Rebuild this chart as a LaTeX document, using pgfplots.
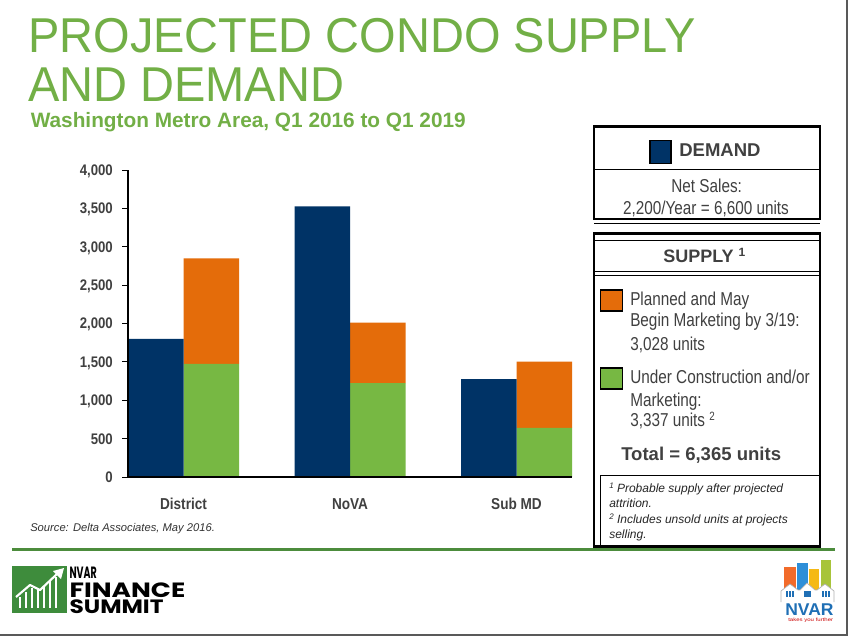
\documentclass[border=0pt]{standalone}
\usepackage{pgfplots}
\pgfplotsset{compat=1.18}
\usepackage{fontspec}
\setmainfont{Liberation Sans}
\newfontfamily\narrowfont[FakeStretch=0.82]{Liberation Sans}
\newfontfamily\titlefont[FakeStretch=0.96]{Liberation Sans}
\newfontfamily\catfont[FakeStretch=0.86]{Liberation Sans}
\newfontfamily\logofont{Poppins}
\definecolor{navy}{HTML}{003366}
\definecolor{borange}{HTML}{E46C0A}
\definecolor{bgreen}{HTML}{77B843}
\definecolor{titlegreen}{HTML}{72AF46}
\definecolor{txt}{HTML}{404040}
\definecolor{linegreen}{HTML}{4C8C3C}
\definecolor{logogreen}{HTML}{3E8C3C}
\definecolor{nvblue}{HTML}{1F6FB5}
\definecolor{nvorange}{HTML}{F26B2A}
\definecolor{nvsky}{HTML}{2E8FD8}
\definecolor{nvyellow}{HTML}{F5B915}
\definecolor{nvlime}{HTML}{A8C43A}
\newcommand\fs[1]{\fontsize{#1pt}{#1pt}\selectfont}
\begin{document}
\begin{tikzpicture}
\path[use as bounding box] (0,0) rectangle (636pt,-477pt);
\fill[white] (0,0) rectangle (636pt,-477pt);
% supply bars (stacked), hidden axis
\begin{axis}[
  at={(96pt,-357.75pt)}, anchor=south west, scale only axis,
  width=333pt, height=230.25pt,
  xmin=-0.33333, xmax=2.33333, ymin=0, ymax=4000,
  enlargelimits=false, hide axis,
  ybar stacked, bar width=0.33333,
]
\addplot[fill=bgreen, draw=none] coordinates {(0.16667,1475) (1.16667,1222) (2.16667,640)};
\addplot[fill=borange, draw=none] coordinates {(0.16667,1373) (1.16667,790) (2.16667,865)};
\end{axis}
% demand bars and axes
\begin{axis}[
  at={(96pt,-357.75pt)}, anchor=south west, scale only axis,
  width=333pt, height=230.25pt,
  xmin=-0.33333, xmax=2.33333, ymin=0, ymax=4000,
  enlargelimits=false, axis on top,
  axis lines=left, axis line style={-, line width=0.9pt, black},
  xtick={0,1,2}, xticklabels={District,NoVA,Sub MD},
  ytick={0,500,...,4000},
  tick align=outside, major tick length=4.2pt,
  xtick style={draw=none}, ytick style={black, line width=0.75pt},
  yticklabel style={font=\catfont\bfseries\fs{11.5}, text=txt, inner sep=0pt, anchor=base east, xshift=-7pt, yshift=-4.1pt},
  xticklabel style={font=\catfont\bfseries\fs{11.85}, text=txt, inner sep=0pt, anchor=base, yshift=-20.25pt},
  /pgf/number format/1000 sep={,},
  /pgf/number format/assume math mode=true,
]
\addplot[ybar, bar width=0.33333, bar shift=0pt, fill=navy, draw=none] coordinates {(-0.16667,1800) (0.83333,3525) (1.83333,1275)};
\end{axis}
\begin{scope}[x=0.75pt,y=-0.75pt]
% titles
\node[anchor=base west, inner sep=0, text=titlegreen] at (28,52) {\titlefont\fs{36.7}PROJECTED CONDO SUPPLY};
\node[anchor=base west, inner sep=0, text=titlegreen] at (28,101.7) {\titlefont\fs{36.7}AND DEMAND};
\node[anchor=base west, inner sep=0, text=titlegreen] at (30.5,127.7) {\bfseries\fs{15.6}Washington Metro Area, Q1 2016 to Q1 2019};
% source
\node[anchor=base west, inner sep=0, text=black!80] at (30,531.7) {\itshape\fs{8.4}Source: Delta Associates, May 2016.};
% demand box
\draw[line width=1.9pt] (594,126.7) rectangle (820,219);
\draw[line width=0.75pt] (594,169.3) -- (820,169.3);
\draw[line width=0.75pt] (594,223) -- (820,223);
\filldraw[fill=navy, draw=black, line width=1.1pt] (650,140.7) rectangle (671,163.3);
\node[anchor=base west, inner sep=0, text=txt] at (679,156.7) {\bfseries\fs{13.9}DEMAND};
\node[anchor=base, inner sep=0, text=txt] at (706.7,192.7) {\narrowfont\fs{14}Net Sales:};
\node[anchor=base, inner sep=0, text=txt] at (706,214.3) {\narrowfont\fs{14}2,200/Year = 6,600 units};
% supply box
\draw[line width=1.9pt] (594,233.3) rectangle (820,546.7);
\draw[line width=0.75pt] (594,240.7) -- (820,240.7);
\draw[line width=0.75pt] (594,271.7) -- (820,271.7);
\draw[line width=0.75pt] (594,275) -- (820,275);
\node[anchor=base west, inner sep=0, text=txt] at (663,262.7) {\bfseries\fs{13.5}SUPPLY {\fs{9}\raisebox{4.5pt}{1}}};
\filldraw[fill=borange, draw=black, line width=1.1pt] (600.7,290) rectangle (622.3,311);
\node[anchor=base west, inner sep=0, text=txt] at (630,305) {\narrowfont\fs{14}Planned and May};
\node[anchor=base west, inner sep=0, text=txt] at (630,326.7) {\narrowfont\fs{14}Begin Marketing by 3/19:};
\node[anchor=base west, inner sep=0, text=txt] at (630,350) {\narrowfont\fs{14}3,028 units};
\filldraw[fill=bgreen, draw=black, line width=1.1pt] (600.7,368) rectangle (622.3,389);
\node[anchor=base west, inner sep=0, text=txt] at (630,383.3) {\narrowfont\fs{14}Under Construction and/or};
\node[anchor=base west, inner sep=0, text=txt] at (630,406) {\narrowfont\fs{14}Marketing:};
\node[anchor=base west, inner sep=0, text=txt] at (630,426.7) {\narrowfont\fs{14}3,337 units {\fs{9}\raisebox{4.5pt}{2}}};
\node[anchor=base west, inner sep=0, text=txt] at (621,460) {\bfseries\fs{13.9}Total = 6,365 units};
\draw[line width=0.75pt] (600,475) -- (820,475);
\draw[line width=0.75pt] (600,475) -- (600,546.7);
\node[anchor=base west, inner sep=0, text=black!85] at (609,492.7) {\itshape\fs{9}{\fs{6}\raisebox{3pt}{1}} Probable supply after projected};
\node[anchor=base west, inner sep=0, text=black!85] at (609,507.7) {\itshape\fs{9}attrition.};
\node[anchor=base west, inner sep=0, text=black!85] at (609,523.3) {\itshape\fs{9}{\fs{6}\raisebox{3pt}{2}} Includes unsold units at projects};
\node[anchor=base west, inner sep=0, text=black!85] at (609,538.3) {\itshape\fs{9}selling.};
% separator
\draw[linegreen, line width=1.9pt] (12,549.3) -- (835,549.3);
% left logo
\fill[logogreen] (12,566) rectangle (66.7,613.3);
\foreach \xx/\yy in {20/597,26/592,32/588,38/590,44/586,50/581,56/577}
  \draw[white, line width=1pt] (\xx,\yy) -- (\xx,608) ;
\draw[white, line width=1.6pt, line join=round] (16,597) -- (30,585) -- (40,590) -- (57,574);
\fill[white] (64,568) -- (53,571) -- (61,579) -- cycle;
\node[anchor=base west, inner sep=0] at (69.3,578) {\resizebox{20.5pt}{8.6pt}{\logofont\bfseries NVAR}};
\node[anchor=base west, inner sep=0, align=left, font=\fontsize{10pt}{12.2pt}\selectfont] at (69.3,613.3) {\resizebox{86.8pt}{11pt}{\logofont\bfseries FINANCE}\\\resizebox{70.5pt}{10.3pt}{\logofont\bfseries SUMMIT}};
% right logo
\fill[nvorange] (784.3,566.7) rectangle (795.7,590);
\fill[nvsky] (796.7,563.3) rectangle (807.7,590);
\fill[nvyellow] (809.3,569.3) rectangle (819.3,590);
\fill[nvlime] (821,560) rectangle (831,590);
\filldraw[fill=white, draw=gray!60, line width=0.5pt] (781,602) -- (781,591) -- (790,584) -- (798,590) -- (800,590) -- (807,583) -- (815,590) -- (817,590) -- (825,584) -- (834,591) -- (834,602);
\foreach \bx in {786,803.5,822}{
  \foreach \i in {0,1,2}{\foreach \j in {0,1}{
    \fill[nvblue] (\bx+\i*2.8,591+\j*3.2) rectangle ++(2.2,2.6);}}}
\node[anchor=base west, inner sep=0] at (785,615) {\resizebox{36.2pt}{8.8pt}{\bfseries\color{nvblue}NVAR}};
\node[anchor=base west, inner sep=0] at (788,621.7) {\resizebox{33.7pt}{2.6pt}{\narrowfont\color{red!80!black}takes you further}};
% frame
\draw[black!65, line width=1.1pt] (0,635) -- (847,635) -- (847,0);
\end{scope}
\end{tikzpicture}
\end{document}
